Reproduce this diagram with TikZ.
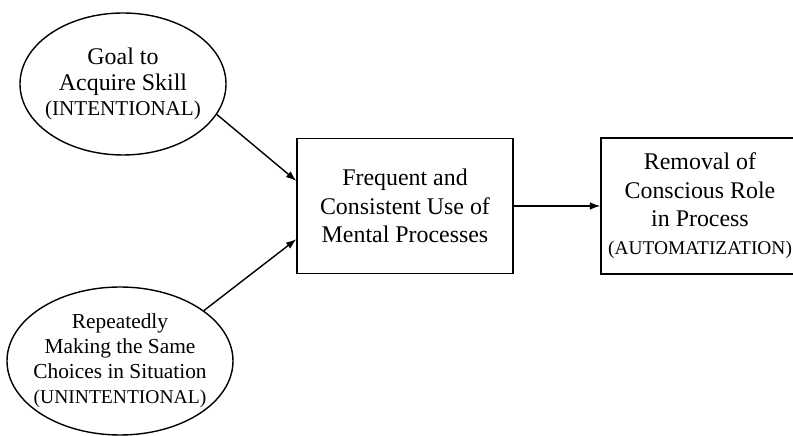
\documentclass[tikz,border=0pt]{standalone}
\usepackage{fontspec}
\setmainfont{Liberation Serif}
\usetikzlibrary{shapes.geometric,positioning,arrows.meta}
\newcommand{\kindnote}[2][15]{{\fontsize{#1}{16}\selectfont #2}}

\begin{document}
\begin{tikzpicture}[
    x=1mm, y=1mm,
    >={Latex[length=2.6mm,width=1.9mm]},
    line width=1pt,
    on grid,
    box/.style={draw, rectangle, align=center, inner sep=0pt,
                font=\fontsize{17}{20.2}\selectfont},
    bubble/.style={draw, ellipse, align=center, inner xsep=-1.8mm, inner ysep=0pt,
                font=\fontsize{17}{18}\selectfont}]
  \useasboundingbox (0,0) rectangle (198.25,-109);
       \node[box, minimum width=54mm, minimum height=33.75mm] (use) at (101.25,-51.5)
            {Frequent and\\ Consistent Use of\\ Mental Processes};
       \node[box, minimum width=49.5mm, minimum height=34mm] (removal) [right=73.75mm of use]
            {Removal of\\ Conscious Role\\ in Process\\ \kindnote[13.8]{(AUTOMATIZATION)}};
       \node[bubble, minimum width=51.5mm, minimum height=35.5mm] (goal) [above left=30.5mm and 70.5mm of use]
            {Goal to\\ Acquire Skill\\ \kindnote{(INTENTIONAL)}};
       \node[bubble, inner xsep=-2.5mm, font=\fontsize{15.2}{17.8}\selectfont,
             minimum width=56.5mm, minimum height=37mm] (repeat) [below left=38.75mm and 71.25mm of use]
            {Repeatedly\\ Making the Same\\ Choices in Situation\\ \kindnote[13.9]{(UNINTENTIONAL)}};
        \path[->]
        (goal.-18)   edge (use.167)
        (repeat.31)  edge (use.197)
        (use)        edge (removal)
        ;
\end{tikzpicture}
\end{document}
